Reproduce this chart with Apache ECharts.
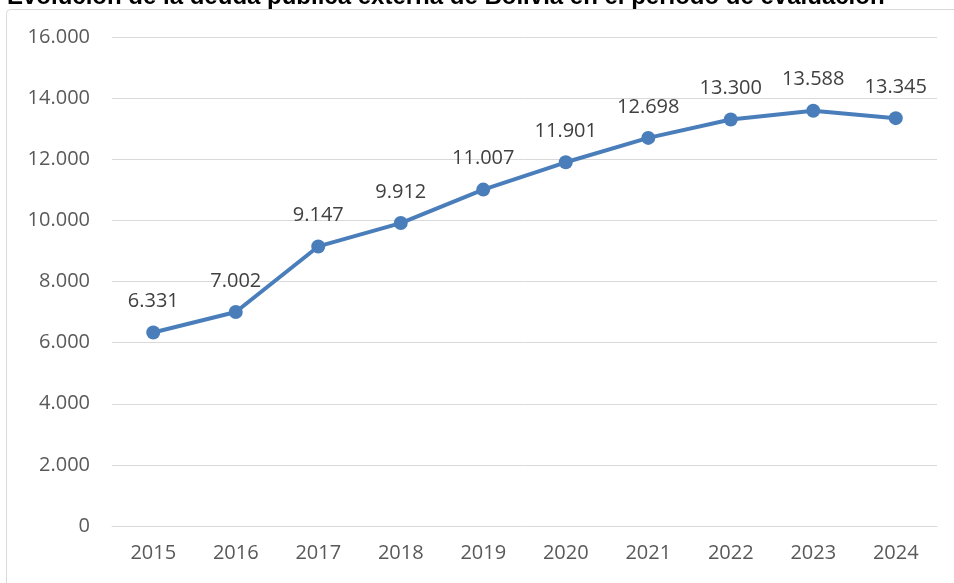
<!DOCTYPE html>
<html><head><meta charset="utf-8">
<script src="https://cdn.jsdelivr.net/npm/echarts@6/dist/echarts.min.js"></script>
<style>html,body{margin:0;padding:0;background:#fff}#c{width:954px;height:583px}</style>
</head><body><div id="c"></div>
<script>
const titleText = 'Evolución de la deuda pública externa de Bolivia en el período de evaluación';
const years = ['2015','2016','2017','2018','2019','2020','2021','2022','2023','2024'];
const debt = [6331, 7002, 9147, 9912, 11007, 11901, 12698, 13300, 13588, 13345];
const fmt = v => String(v).replace(/\B(?=(\d{3})+(?!\d))/g, '.');
const chart = echarts.init(document.getElementById('c'));
chart.setOption({
  animation: false,
  title: {text: titleText, left: 2, top: -20, textStyle: {fontFamily: 'Liberation Sans', fontWeight: 'bold', fontSize: 24, color: '#000'}},
  graphic: [{type: 'rect', shape: {x: 6.5, y: 9.5, width: 1000, height: 700, r: 4}, style: {fill: 'none', stroke: '#d9d9d9', lineWidth: 1}, z: -1}],
  grid: {left: 112, right: 17, top: 37, bottom: 57},
  xAxis: {type: 'category', data: years, boundaryGap: true,
    axisLine: {lineStyle: {color: '#d9d9d9'}}, axisTick: {show: false},
    axisLabel: {color: '#595959', fontSize: 20, fontFamily: 'Open Sans', margin: 17}},
  yAxis: {type: 'value', min: 0, max: 16000, interval: 2000,
    axisLine: {show: false}, axisTick: {show: false},
    splitLine: {lineStyle: {color: '#d9d9d9', width: 1}},
    axisLabel: {color: '#595959', fontSize: 20, fontFamily: 'Open Sans', margin: 22, formatter: fmt}},
  series: [{type: 'line', data: debt, symbol: 'circle', symbolSize: 14,
    lineStyle: {color: '#4a7ebb', width: 4}, itemStyle: {color: '#4a7ebb'},
    label: {show: true, position: 'top', distance: 14, color: '#404040', fontSize: 20, fontFamily: 'Open Sans', formatter: p => fmt(p.value)}}]
});
</script></body></html>
